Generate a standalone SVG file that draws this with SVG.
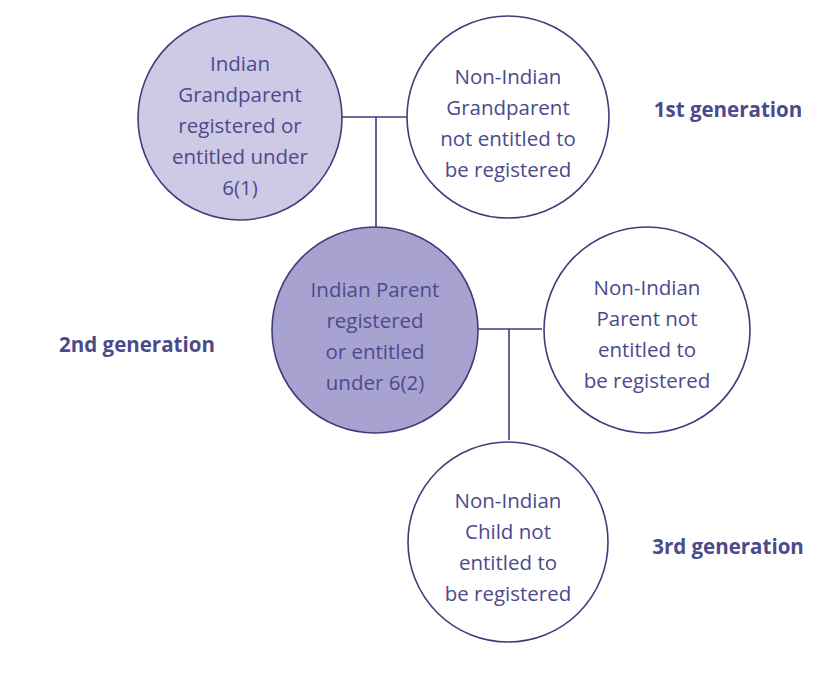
<svg xmlns="http://www.w3.org/2000/svg" width="825" height="676" viewBox="0 0 825 676">
<style>
.c{stroke:#3f3d7a;stroke-width:1.6}
.t{font-family:"Open Sans","Liberation Sans",sans-serif;font-size:20.5px;fill:#4c4a8c;text-anchor:middle}
.g{font-family:"Open Sans","Liberation Sans",sans-serif;font-size:20.5px;font-weight:bold;fill:#4c4a8c;text-anchor:middle}
.l{stroke:#3f3d7a;stroke-width:1.6;fill:none}
</style>
<rect width="825" height="676" fill="#fff"/>
<g id="connectors">
<path class="l" d="M342 117H408M376 117V229M478 329H542M509 329V440"/>
</g>
<g id="gp1"><circle class="c" cx="240" cy="118" r="102" fill="#cecae5"/>
<text class="t" x="240" y="71">Indian</text><text class="t" x="240" y="102">Grandparent</text><text class="t" x="240" y="133">registered or</text><text class="t" x="240" y="164">entitled under</text><text class="t" x="240" y="195">6(1)</text></g>
<g id="gp2"><circle class="c" cx="508" cy="117" r="101" fill="#fff"/>
<text class="t" x="508" y="84">Non-Indian</text><text class="t" x="508" y="115">Grandparent</text><text class="t" x="508" y="146">not entitled to</text><text class="t" x="508" y="177">be registered</text></g>
<g id="p1"><circle class="c" cx="375" cy="330" r="103" fill="#a8a2d0"/>
<text class="t" x="375" y="297">Indian Parent</text><text class="t" x="375" y="328">registered</text><text class="t" x="375" y="359">or entitled</text><text class="t" x="375" y="390">under 6(2)</text></g>
<g id="p2"><circle class="c" cx="647" cy="330" r="103" fill="#fff"/>
<text class="t" x="647" y="295">Non-Indian</text><text class="t" x="647" y="326">Parent not</text><text class="t" x="647" y="357">entitled to</text><text class="t" x="647" y="388">be registered</text></g>
<g id="ch"><circle class="c" cx="508" cy="542" r="100" fill="#fff"/>
<text class="t" x="508" y="508">Non-Indian</text><text class="t" x="508" y="539">Child not</text><text class="t" x="508" y="570">entitled to</text><text class="t" x="508" y="601">be registered</text></g>
<g id="labels">
<text class="g" x="728" y="117">1st generation</text>
<text class="g" x="137" y="352">2nd generation</text>
<text class="g" x="728" y="554">3rd generation</text>
</g>
</svg>
